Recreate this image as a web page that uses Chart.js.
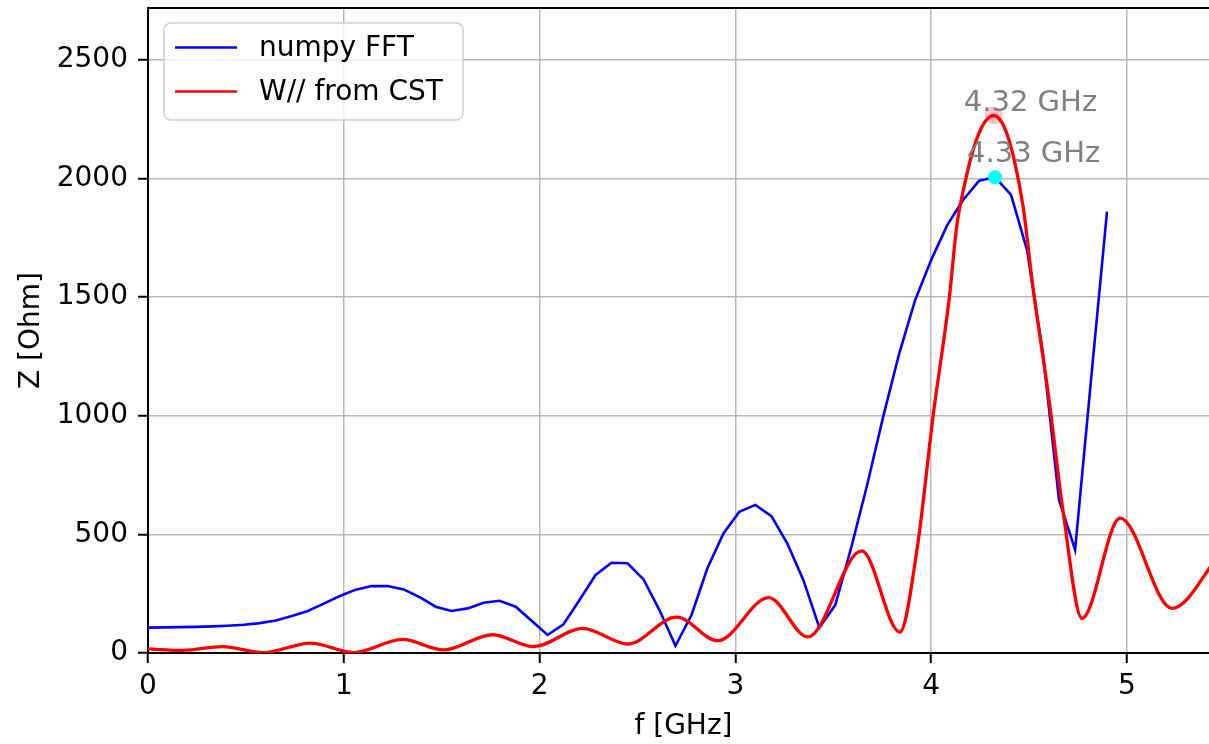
<!DOCTYPE html>
<html>
<head>
<meta charset="utf-8">
<script src="https://cdn.jsdelivr.net/npm/chart.js@4.4.0/dist/chart.umd.min.js"></script>
<style>
  html, body { margin: 0; padding: 0; background: #fff; overflow: hidden; }
  #wrap { width: 1219px; height: 744px; }
</style>
</head>
<body>
<div id="wrap"><canvas id="myChart" width="1219" height="744"></canvas></div>
<script>
'use strict';
// numpy FFT, frequency grid [GHz] and impedance [Ohm]
const fftFreq = [0, 0.082, 0.163, 0.245, 0.327, 0.408, 0.490, 0.571, 0.653, 0.735,
  0.816, 0.898, 0.980, 1.061, 1.143, 1.224, 1.306, 1.388, 1.469, 1.551,
  1.633, 1.714, 1.796, 1.878, 1.959, 2.041, 2.122, 2.204, 2.286, 2.367,
  2.449, 2.531, 2.612, 2.694, 2.776, 2.857, 2.939, 3.020, 3.102, 3.184,
  3.265, 3.347, 3.429, 3.510, 3.592, 3.673, 3.755, 3.837, 3.918, 4.000,
  4.082, 4.163, 4.245, 4.326, 4.408, 4.490, 4.571, 4.653, 4.735, 4.816, 4.898];
const fftZ = [107, 108, 109, 110, 112, 115, 119, 126, 137, 156,
  177, 208, 240, 267, 282, 282, 268, 235, 195, 177,
  188, 212, 220, 195, 136, 76, 121, 223, 329, 380,
  378, 310, 181, 30, 160, 357, 504, 595, 624, 577,
  462, 308, 107, 202, 445, 708, 996, 1263, 1487, 1656,
  1803, 1909, 1990, 2005, 1930, 1697, 1260, 645, 435, 1148, 1860];

// W// from CST
const cstFreq = [0, 0.18, 0.38, 0.59, 0.83, 1.05, 1.30, 1.51, 1.76, 1.97,
  2.22, 2.45, 2.70, 2.91, 3.17, 3.37, 3.645, 3.84, 3.93,
  4.01, 4.093, 4.13, 4.17, 4.215, 4.245, 4.28, 4.32, 4.36, 4.386, 4.42, 4.47, 4.52, 4.60,
  4.675, 4.77, 4.965, 5.23, 5.47];
const cstZ = [17, 11, 27, 2, 42, 2, 57, 13, 77, 27,
  104, 38, 151, 52, 233, 68, 430, 88, 450,
  1000, 1500, 1795, 1972, 2122, 2192, 2244, 2265, 2237, 2190, 2093, 1878, 1540, 1080,
  589, 146, 568, 188, 410];

// peaks
const cstPeak = [4.32, 2265];
const fftPeak = [4.326, 2005];
const cstPeakLabel = '4.32 GHz';
const fftPeakLabel = '4.33 GHz';

const xTicks = [0, 1, 2, 3, 4, 5];
const yTicks = [0, 500, 1000, 1500, 2000, 2500];
const legendLabels = ['numpy FFT', 'W// from CST'];
const legendColors = ['#0000ff', '#ff0000'];

const FONT = 'DejaVu Sans';
Chart.defaults.font.family = FONT;
Chart.defaults.color = '#000';

const gridColor = 'rgba(176,176,176,0.9)';

const decor = {
  id: 'decor',
  afterDatasetsDraw(chart) {
    const { ctx, chartArea: a, scales: { x, y } } = chart;
    ctx.save();
    // top spine
    ctx.strokeStyle = '#000';
    ctx.lineWidth = 2;
    ctx.beginPath();
    ctx.moveTo(a.left - 1, a.top);
    ctx.lineTo(a.right, a.top);
    ctx.stroke();

    // peak labels
    ctx.fillStyle = '#808080';
    ctx.font = '29px "' + FONT + '"';
    ctx.textAlign = 'left';
    ctx.textBaseline = 'alphabetic';
    ctx.fillText(cstPeakLabel, x.getPixelForValue(cstPeak[0]) - 30, y.getPixelForValue(cstPeak[1]) - 5);
    ctx.fillText(fftPeakLabel, x.getPixelForValue(fftPeak[0]) - 28, y.getPixelForValue(fftPeak[1]) - 15);

    // legend
    const bx = 164, by = 23, bw = 299, bh = 97, r = 7;
    ctx.beginPath();
    ctx.roundRect(bx, by, bw, bh, r);
    ctx.fillStyle = 'rgba(255,255,255,0.8)';
    ctx.fill();
    ctx.strokeStyle = '#d0d0d0';
    ctx.lineWidth = 1.5;
    ctx.stroke();
    ctx.font = '28px "' + FONT + '"';
    ctx.textBaseline = 'middle';
    ctx.fillStyle = '#000';
    legendLabels.forEach((lab, i) => {
      const ly = 47.5 + i * 44;
      ctx.strokeStyle = legendColors[i];
      ctx.lineWidth = 2.6;
      ctx.beginPath();
      ctx.moveTo(175, ly);
      ctx.lineTo(237, ly);
      ctx.stroke();
      ctx.fillText(lab, 259, ly + 1);
    });
    ctx.restore();
  },
};

const config = {
  type: 'line',
  data: {
    datasets: [
      {
        label: 'numpy FFT',
        data: fftFreq.map((f, i) => ({ x: f, y: fftZ[i] })),
        borderColor: '#0000ff',
        borderWidth: 2.6,
        pointRadius: 0,
        tension: 0,
        order: 3,
      },
      {
        label: 'W// from CST',
        data: cstFreq.map((f, i) => ({ x: f, y: cstZ[i] })),
        borderColor: '#ff0000',
        borderWidth: 3.3,
        pointRadius: 0,
        cubicInterpolationMode: 'monotone',
        order: 1,
      },
      {
        label: 'CST peak',
        data: [{ x: cstPeak[0], y: cstPeak[1] }],
        showLine: false,
        pointRadius: 9,
        pointBorderWidth: 0,
        pointBackgroundColor: '#ffc0cb',
        order: 4,
      },
      {
        label: 'FFT peak',
        data: [{ x: fftPeak[0], y: fftPeak[1] }],
        showLine: false,
        pointRadius: 7,
        pointBorderWidth: 0,
        pointBackgroundColor: '#00ffff',
        order: 2,
      },
    ],
  },
  options: {
    responsive: false,
    animation: false,
    devicePixelRatio: 1,
    layout: { autoPadding: false, padding: { top: 8, left: 0, right: 0, bottom: 0 } },
    plugins: { legend: { display: false }, tooltip: { enabled: false } },
    scales: {
      x: {
        type: 'linear',
        min: 0,
        max: 5.47,
        afterBuildTicks: s => { s.ticks = xTicks.map(v => ({ value: v })); },
        afterFit: s => { s.height = 91; s.paddingLeft = 0; s.paddingRight = 0; },
        grid: { color: gridColor, lineWidth: 1.5, tickColor: '#000', tickLength: 10, tickWidth: 2 },
        border: { color: '#000', width: 2 },
        ticks: { font: { size: 28 }, padding: 7, maxRotation: 0, callback: v => String(v) },
        title: { display: true, text: 'f [GHz]', font: { size: 28 }, padding: { top: -5, bottom: 0 } },
      },
      y: {
        type: 'linear',
        min: 0,
        max: 2718,
        afterBuildTicks: s => { s.ticks = yTicks.map(v => ({ value: v })); },
        afterFit: s => { s.width = 148; s.paddingTop = 0; s.paddingBottom = 0; },
        grid: { color: gridColor, lineWidth: 1.5, tickColor: '#000', tickLength: 10, tickWidth: 2 },
        border: { color: '#000', width: 2 },
        ticks: { font: { size: 28 }, padding: 10, callback: v => String(v) },
        title: { display: true, text: 'Z [Ohm]', font: { size: 28 }, padding: { top: 15, bottom: 0 } },
      },
    },
  },
  plugins: [decor],
};

const myChart = new Chart(document.getElementById('myChart'), config);
</script>
</body>
</html>
